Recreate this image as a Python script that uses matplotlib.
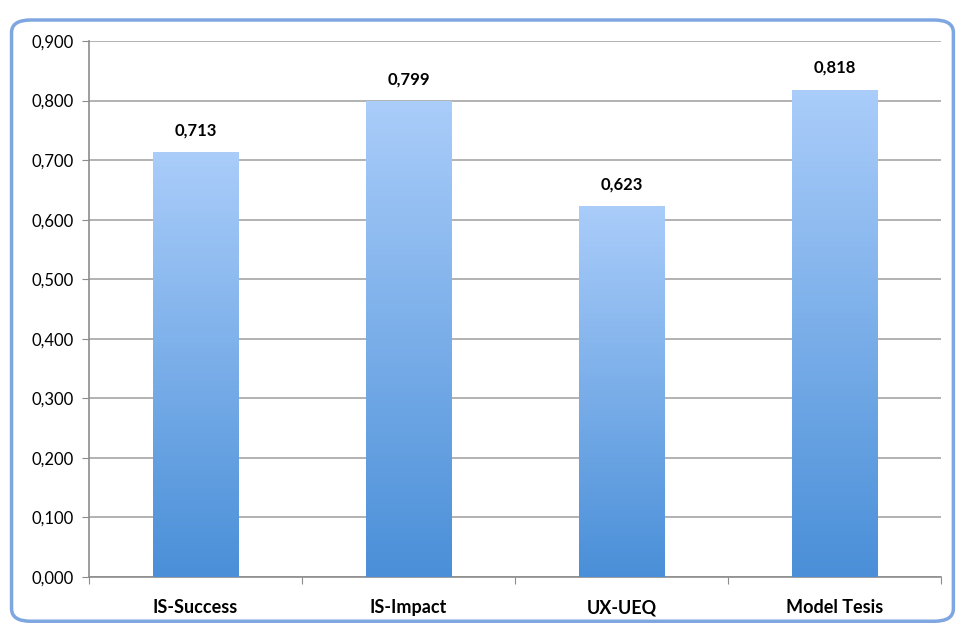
import matplotlib.pyplot as plt
import numpy as np
from matplotlib.patches import FancyBboxPatch
from matplotlib.colors import LinearSegmentedColormap

plt.rc('font', family=['Lato', 'DejaVu Sans'], size=12)

categories = ['IS-Success', 'IS-Impact', 'UX-UEQ', 'Model Tesis']
values = [0.713, 0.799, 0.623, 0.818]
yticks = [0.0, 0.1, 0.2, 0.3, 0.4, 0.5, 0.6, 0.7, 0.8, 0.9]

fig = plt.figure(figsize=(9.63, 6.25), dpi=100)

# window frame around the chart (excel style)
frame = FancyBboxPatch((0.012, 0.006), 0.978, 0.962, boxstyle='round,pad=0,rounding_size=0.02',
                       transform=fig.transFigure, facecolor='none', edgecolor='#7ea6e0',
                       linewidth=2.5, zorder=-1)
fig.patches.append(frame)

ax = fig.add_axes([0.0924, 0.0768, 0.8848, 0.8576])
ax.set_facecolor('none')

x = np.arange(len(categories))
width = 0.4
bars = ax.bar(x, values, width=width, color='none', edgecolor='none', zorder=3)

cmap = LinearSegmentedColormap.from_list('excel', ['#4a8fd8', '#aacdfa'])
grad = np.linspace(0, 1, 256).reshape(-1, 1)
for b in bars:
    x0, w, h = b.get_x(), b.get_width(), b.get_height()
    im = ax.imshow(grad, cmap=cmap, origin='lower', aspect='auto',
                   extent=[x0, x0 + w, 0, h], zorder=3)
    im.set_clip_path(b)

for xi, v in zip(x, values):
    ax.annotate(f'{v:.3f}'.replace('.', ','), (xi, v), xytext=(0, 10),
                textcoords='offset points', ha='center', va='bottom',
                fontweight='bold', fontsize=12)

ax.set_xlim(-0.5, len(categories) - 0.5)
ax.set_ylim(0, 0.9)
ax.set_yticks(yticks)
ax.set_yticklabels([f'{t:.3f}'.replace('.', ',') for t in yticks])
ax.grid(axis='y', color='#a6a6a6', linewidth=1.2, zorder=0)
ax.set_axisbelow(True)

ax.set_xticks(np.arange(-0.5, len(categories), 1.0))
ax.set_xticklabels([])
ax.set_xticks(x, minor=True)
ax.set_xticklabels(categories, minor=True, fontweight='bold', fontsize=13)
ax.tick_params(axis='x', which='minor', length=0, pad=16)
ax.tick_params(axis='x', which='major', length=5, color='#8c8c8c')
ax.tick_params(axis='y', length=5, color='#8c8c8c', pad=6)

for s in ['top', 'right']:
    ax.spines[s].set_visible(False)
for s in ['left', 'bottom']:
    ax.spines[s].set_color('#8c8c8c')
    ax.spines[s].set_linewidth(1.2)

plt.savefig('out.png', dpi=100)
